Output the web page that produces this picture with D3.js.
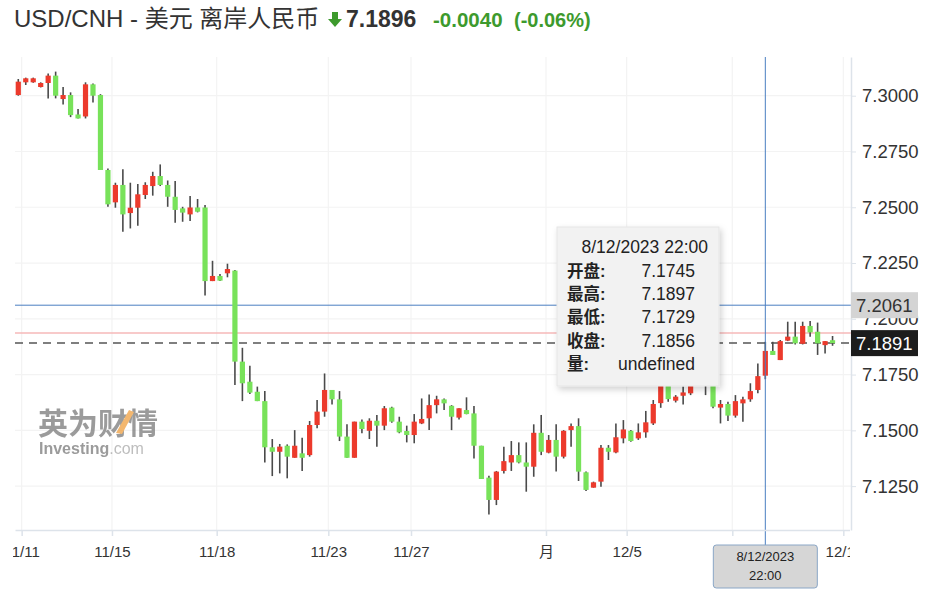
<!DOCTYPE html>
<html><head><meta charset="utf-8">
<script src="https://cdn.jsdelivr.net/npm/d3@7"></script>
<style>
body{margin:0;background:#fff}
svg{display:block}
text{font-family:"Liberation Sans","Noto Sans CJK SC",Arial,sans-serif}
</style>
</head><body>
<svg id="c" width="938" height="592"></svg>
<script>
// ---- data ----
const opens=[7.3003,7.3060,7.3060,7.3039,7.3057,7.3090,7.2985,7.3003,7.2916,7.2907,
7.3051,7.3003,7.2667,7.2522,7.2600,7.2474,7.2498,7.2555,7.2595,7.2640,
7.2600,7.2547,7.2495,7.2468,7.2499,7.2499,7.2169,7.2192,7.2204,7.2216,
7.1808,7.1718,7.1673,7.1631,7.1424,7.1404,7.1431,7.1377,7.1397,7.1389,
7.1524,7.1584,7.1681,7.1639,7.1472,7.1377,7.1539,7.1498,7.1543,7.1521,
7.1602,7.1539,7.1497,7.1479,7.1531,7.1554,7.1613,7.1639,7.1610,7.1557,
7.1591,7.1576,7.1431,7.1288,7.1188,7.1318,7.1356,7.1389,7.1356,7.1337,
7.1489,7.1400,7.1457,7.1382,7.1501,7.1519,7.1312,7.1243,7.1270,7.1422,
7.1401,7.1464,7.1498,7.1464,7.1491,7.1531,7.1622,7.1726,7.1633,7.1655,
7.1666,7.1711,7.1745,7.1718,7.1602,7.1618,7.1566,7.1621,7.1639,7.1681,
7.1745,7.1856,7.1815,7.1902,7.1920,7.1888,7.1968,7.1942,7.1882,7.1904];
const highs=[7.3075,7.3081,7.3081,7.3060,7.3100,7.3108,7.3039,7.3015,7.2940,7.3060,
7.3055,7.3007,7.2674,7.2610,7.2670,7.2610,7.2604,7.2612,7.2659,7.2692,
7.2620,7.2618,7.2502,7.2550,7.2537,7.2510,7.2260,7.2201,7.2247,7.2219,
7.1870,7.1790,7.1696,7.1676,7.1461,7.1439,7.1437,7.1501,7.1467,7.1542,
7.1636,7.1755,7.1681,7.1676,7.1527,7.1539,7.1549,7.1554,7.1569,7.1609,
7.1606,7.1561,7.1521,7.1573,7.1643,7.1661,7.1655,7.1643,7.1613,7.1599,
7.1648,7.1609,7.1431,7.1297,7.1318,7.1427,7.1452,7.1446,7.1446,7.1527,
7.1569,7.1479,7.1527,7.1501,7.1531,7.1554,7.1315,7.1270,7.1434,7.1434,
7.1531,7.1546,7.1501,7.1531,7.1587,7.1636,7.1748,7.1740,7.1658,7.1696,
7.1726,7.1763,7.1770,7.1733,7.1636,7.1628,7.1658,7.1651,7.1711,7.1800,
7.1897,7.1897,7.1905,7.1987,7.1987,7.1987,7.1990,7.1983,7.1900,7.1923];
const lows=[7.3000,7.3048,7.3058,7.3037,7.2988,7.2988,7.2961,7.2904,7.2898,7.2898,
7.2969,7.2667,7.2502,7.2498,7.2390,7.2405,7.2417,7.2537,7.2552,7.2595,
7.2502,7.2431,7.2435,7.2438,7.2477,7.2104,7.2169,7.2169,7.2186,7.1703,
7.1631,7.1663,7.1631,7.1356,7.1295,7.1307,7.1285,7.1377,7.1318,7.1382,
7.1509,7.1561,7.1616,7.1452,7.1377,7.1377,7.1487,7.1461,7.1427,7.1501,
7.1534,7.1487,7.1446,7.1442,7.1528,7.1501,7.1576,7.1591,7.1501,7.1549,
7.1572,7.1374,7.1282,7.1123,7.1165,7.1307,7.1318,7.1352,7.1225,7.1292,
7.1389,7.1397,7.1315,7.1374,7.1427,7.1273,7.1228,7.1243,7.1247,7.1367,
7.1397,7.1442,7.1449,7.1457,7.1467,7.1524,7.1601,7.1628,7.1625,7.1616,
7.1658,7.1703,7.1658,7.1599,7.1531,7.1542,7.1557,7.1539,7.1628,7.1666,
7.1729,7.1838,7.1815,7.1900,7.1885,7.1885,7.1920,7.1838,7.1845,7.1879];
const closes=[7.3063,7.3078,7.3078,7.3057,7.3090,7.3000,7.3003,7.2913,7.2898,7.3051,
7.3000,7.2667,7.2513,7.2600,7.2468,7.2498,7.2558,7.2600,7.2640,7.2600,
7.2547,7.2488,7.2476,7.2499,7.2480,7.2169,7.2192,7.2171,7.2223,7.1808,
7.1711,7.1669,7.1631,7.1424,7.1404,7.1427,7.1382,7.1431,7.1377,7.1524,
7.1584,7.1681,7.1639,7.1472,7.1377,7.1539,7.1506,7.1543,7.1521,7.1599,
7.1539,7.1491,7.1479,7.1539,7.1551,7.1613,7.1639,7.1621,7.1561,7.1599,
7.1573,7.1431,7.1282,7.1188,7.1315,7.1362,7.1389,7.1356,7.1337,7.1489,
7.1404,7.1457,7.1382,7.1498,7.1519,7.1315,7.1233,7.1267,7.1422,7.1404,
7.1469,7.1504,7.1452,7.1491,7.1536,7.1618,7.1734,7.1640,7.1651,7.1670,
7.1711,7.1748,7.1718,7.1606,7.1618,7.1566,7.1631,7.1639,7.1676,7.1743,
7.1856,7.1838,7.1900,7.1920,7.1890,7.1968,7.1939,7.1890,7.1900,7.1891];

const yTicks=[7.125,7.15,7.175,7.2,7.225,7.25,7.275,7.3];
const xTickIdx=[0.45,12.54,26.56,41.5,52.57,70.64,81.44,95.58,110.44];
const xTickLabels=["11/11","11/15","11/18","11/23","11/27","月","12/5","12/8","12/11"];

const lastPrice=7.1891, prevClose=7.1936, crossPrice=7.2061, crossIdx=100;
const crossDate=["8/12/2023","22:00"];
const tipTitle="8/12/2023 22:00";
const tipLabels=["开盘:","最高:","最低:","收盘:","量:"];
const tipValues=["7.1745","7.1897","7.1729","7.1856","undefined"];
const headerName="USD/CNH - 美元 离岸人民币";
const headerPrice="7.1896", headerChange="-0.0040", headerPct="(-0.06%)";

// ---- layout ----
const L=15, R=851, T=57, B=530;
const svg=d3.select("#c");
svg.append("rect").attr("width",938).attr("height",592).attr("fill","#fff");

const x=d3.scaleLinear().domain([-0.44,111.47]).range([L,R]);
const y=d3.scaleLinear().domain([7.10533,7.31735]).range([B,T]);

const defs=svg.append("defs");
defs.append("clipPath").attr("id","plot").append("rect").attr("x",L).attr("y",T).attr("width",R-L).attr("height",B-T);
defs.append("clipPath").attr("id","xlab").append("rect").attr("x",13).attr("y",-2).attr("width",850-13).attr("height",60);
const f=defs.append("filter").attr("id","sh").attr("x","-20%").attr("y","-20%").attr("width","140%").attr("height","140%");
f.append("feDropShadow").attr("dx",2).attr("dy",3).attr("stdDeviation",3).attr("flood-color","#000").attr("flood-opacity",0.18);

// grid
const grid=svg.append("g");
grid.selectAll("line.h").data(yTicks).join("line")
  .attr("x1",L).attr("x2",R).attr("y1",d=>y(d)).attr("y2",d=>y(d))
  .attr("stroke","#f3f3f3").attr("stroke-width",1.2);
grid.selectAll("line.v").data(xTickIdx).join("line")
  .attr("y1",T).attr("y2",B).attr("x1",d=>x(d)).attr("x2",d=>x(d))
  .attr("stroke","#f3f3f3").attr("stroke-width",1.2);

// watermark
const wm=svg.append("g").attr("opacity",0.75);
wm.append("text").attr("x",38).attr("y",434).attr("font-size",30).attr("font-weight","bold")
  .attr("fill","#7a7a7a").attr("font-family","Noto Sans CJK SC").text("英为财情");
wm.append("path").attr("d","M116,433 L129,410 L134,412 L122,434 Z").attr("fill","#f0a040");
const inv=wm.append("text").attr("x",39).attr("y",454).attr("font-size",16).attr("fill","#7a7a7a");
inv.append("tspan").attr("font-weight","bold").text("Investing");
inv.append("tspan").attr("fill","#a8a8a8").text(".com");

// reference lines
svg.append("line").attr("x1",L).attr("x2",R).attr("y1",y(crossPrice)).attr("y2",y(crossPrice))
  .attr("stroke","#4a7fc1").attr("stroke-width",1);
svg.append("line").attr("x1",L).attr("x2",R).attr("y1",y(prevClose)).attr("y2",y(prevClose))
  .attr("stroke","#f6b8b8").attr("stroke-width",1.5);
svg.append("line").attr("x1",L).attr("x2",R).attr("y1",y(lastPrice)).attr("y2",y(lastPrice))
  .attr("stroke","#555").attr("stroke-width",1.5).attr("stroke-dasharray","8,6");

// candles
const data=opens.map((o,i)=>({i,o,h:highs[i],l:lows[i],c:closes[i]}));
const cg=svg.append("g").attr("clip-path","url(#plot)");
const up="#ec3a2c", dn="#78e25a";
cg.selectAll("line.w").data(data).join("line")
  .attr("x1",d=>x(d.i)).attr("x2",d=>x(d.i)).attr("y1",d=>y(d.h)).attr("y2",d=>y(d.l))
  .attr("stroke","#4a4a4a").attr("stroke-width",1.6);
cg.selectAll("rect.b").data(data).join("rect")
  .attr("x",d=>x(d.i)-2.6).attr("width",5.2)
  .attr("y",d=>y(Math.max(d.o,d.c)))
  .attr("height",d=>Math.max(1.5,Math.abs(y(d.o)-y(d.c))))
  .attr("fill",d=>d.c>=d.o?up:dn);

// crosshair vertical
svg.append("line").attr("x1",x(crossIdx)).attr("x2",x(crossIdx)).attr("y1",T).attr("y2",545)
  .attr("stroke","#4a7fc1").attr("stroke-width",1);

// x axis
const xa=svg.append("g").attr("transform",`translate(0,${B})`).attr("clip-path","url(#xlab)")
  .call(d3.axisBottom(x).tickValues(xTickIdx).tickFormat((d,i)=>xTickLabels[i]).tickSize(6).tickSizeOuter(0).tickPadding(10));
xa.select(".domain").attr("stroke","#dde3ea").attr("stroke-width",1.5);
xa.selectAll(".tick line").attr("stroke","#dde3ea").attr("stroke-width",1.5);
xa.selectAll(".tick text").attr("font-size",15).attr("fill","#333")
  .attr("font-family","Liberation Sans Narrow, Liberation Sans, Noto Sans CJK SC, sans-serif");

// y axis right
const ya=svg.append("g").attr("transform",`translate(${R},0)`)
  .call(d3.axisRight(y).tickValues(yTicks).tickFormat(d3.format(".4f")).tickSize(5).tickSizeOuter(0).tickPadding(6));
ya.select(".domain").attr("stroke","#dde3ea").attr("stroke-width",1.5);
ya.selectAll(".tick line").attr("stroke","#dde3ea");
ya.selectAll(".tick text").attr("font-size",18.5).attr("fill","#333");

// price boxes
function priceBox(v,bg,fg){
  const g=svg.append("g");
  g.append("rect").attr("x",R).attr("y",y(v)-13).attr("width",67).attr("height",26).attr("fill",bg);
  g.append("text").attr("x",R+5).attr("y",y(v)+6.5).attr("font-size",18.5).attr("fill",fg).text(d3.format(".4f")(v));
}
priceBox(crossPrice,"#d4d4d4","#333");
priceBox(lastPrice,"#1c1c1c","#fff");

// date box
const cx=x(crossIdx);
svg.append("rect").attr("x",cx-52).attr("y",545).attr("width",104).attr("height",43).attr("rx",3)
  .attr("fill","#d6d6d6").attr("stroke","#8aa6c6").attr("stroke-width",1);
crossDate.forEach((t,i)=>svg.append("text").attr("x",cx).attr("y",561+i*19).attr("text-anchor","middle")
  .attr("font-size",13).attr("fill","#222").text(t));

// tooltip
const tg=svg.append("g");
tg.append("rect").attr("x",557).attr("y",227).attr("width",162).attr("height",159)
  .attr("fill","#f2f2f2").attr("stroke","#e6e6e6").attr("filter","url(#sh)");
tg.append("text").attr("x",708).attr("y",253).attr("text-anchor","end").attr("font-size",17.5).attr("fill","#222").text(tipTitle);
tipLabels.forEach((t,i)=>{
  tg.append("text").attr("x",567).attr("y",277+i*23.2).attr("font-size",16.5).attr("font-weight","bold")
    .attr("font-family","Noto Sans CJK SC").attr("fill","#222").text(t);
  tg.append("text").attr("x",695).attr("y",277+i*23.2).attr("text-anchor","end").attr("font-size",17.5).attr("fill","#222").text(tipValues[i]);
});

// header
svg.append("text").attr("x",14).attr("y",27).attr("font-size",24).attr("fill","#333").text(headerName);
svg.append("path").attr("d","M332,12 L338,12 L338,19 L342,19 L335,27 L328,19 L332,19 Z").attr("fill","#3d9a2d");
svg.append("text").attr("x",346).attr("y",27).attr("font-size",23).attr("font-weight","bold").attr("fill","#333").text(headerPrice);
svg.append("text").attr("x",433).attr("y",27).attr("font-size",20.5).attr("font-weight","bold").attr("fill","#3d9a2d").text(headerChange);
svg.append("text").attr("x",514).attr("y",27).attr("font-size",20).attr("font-weight","bold").attr("fill","#3d9a2d").text(headerPct);
</script>
</body></html>
